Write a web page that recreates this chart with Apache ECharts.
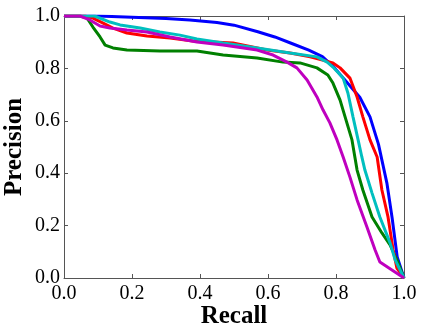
<!DOCTYPE html>
<html>
<head>
<meta charset="utf-8">
<script src="https://cdn.jsdelivr.net/npm/echarts@6/dist/echarts.min.js"></script>
<style>
html,body{margin:0;padding:0;background:#fff;}
#chart{width:423px;height:335px;}
</style>
</head>
<body>
<div id="chart"></div>
<script>
// 曲线数据 [recall, precision]
var blueData = [[0,1.0],[0.1,1.0],[0.2,0.995],[0.3,0.99],[0.37,0.985],[0.45,0.975],[0.5,0.965],[0.57,0.94],[0.62,0.92],[0.67,0.895],[0.72,0.87],[0.76,0.845],[0.79,0.81],[0.83,0.75],[0.87,0.69],[0.9,0.615],[0.925,0.51],[0.95,0.36],[0.965,0.23],[0.98,0.08],[1.0,0.0]];
var greenData = [[0,1.0],[0.047,1.0],[0.068,0.992],[0.085,0.958],[0.106,0.92],[0.121,0.889],[0.144,0.878],[0.185,0.87],[0.282,0.866],[0.391,0.866],[0.468,0.851],[0.568,0.84],[0.644,0.824],[0.694,0.821],[0.744,0.802],[0.776,0.775],[0.791,0.744],[0.812,0.679],[0.832,0.592],[0.847,0.527],[0.856,0.458],[0.862,0.412],[0.879,0.336],[0.906,0.233],[0.935,0.172],[0.959,0.126],[0.979,0.069],[1.0,0.0]];
var redData = [[0,1.0],[0.062,1.0],[0.085,0.992],[0.115,0.973],[0.144,0.954],[0.185,0.935],[0.244,0.924],[0.312,0.916],[0.379,0.905],[0.497,0.897],[0.597,0.87],[0.665,0.859],[0.724,0.844],[0.791,0.821],[0.812,0.802],[0.841,0.763],[0.862,0.691],[0.879,0.615],[0.9,0.527],[0.921,0.462],[0.935,0.336],[0.953,0.233],[0.968,0.107],[0.979,0.038],[1.0,0.0]];
var cyanData = [[0,1.0],[0.09,1.0],[0.135,0.977],[0.165,0.966],[0.224,0.954],[0.282,0.939],[0.341,0.927],[0.391,0.912],[0.468,0.897],[0.568,0.878],[0.665,0.859],[0.744,0.844],[0.774,0.824],[0.791,0.805],[0.821,0.763],[0.835,0.706],[0.85,0.615],[0.865,0.527],[0.876,0.462],[0.885,0.412],[0.906,0.324],[0.929,0.233],[0.959,0.134],[0.974,0.069],[1.0,0.0]];
var magentaData = [[0,1.0],[0.047,1.0],[0.076,0.985],[0.106,0.962],[0.135,0.954],[0.185,0.947],[0.244,0.939],[0.312,0.92],[0.391,0.901],[0.468,0.889],[0.568,0.87],[0.615,0.851],[0.656,0.824],[0.685,0.802],[0.715,0.756],[0.744,0.691],[0.762,0.641],[0.782,0.592],[0.803,0.527],[0.821,0.462],[0.841,0.385],[0.862,0.298],[0.891,0.195],[0.915,0.107],[0.929,0.061],[1.0,0.0]];

var seriesList = [
	{data: blueData, color: '#0000ff'},
	{data: greenData, color: '#008000'},
	{data: redData, color: '#ff0000'},
	{data: cyanData, color: '#00bfbf'},
	{data: magentaData, color: '#bf00bf'}
];

var axisColor = '#555';
var serif = 'Liberation Serif';

function fmt(v){ return v.toFixed(1); }

function frameAxis(pos, extra){
	var ax = {
		type: 'value', min: 0, max: 1, interval: 0.2, position: pos,
		axisLine: {show: true, onZero: false, lineStyle: {color: axisColor, width: 1}},
		axisTick: {show: true, inside: true, length: 4, lineStyle: {color: axisColor}},
		axisLabel: {show: false},
		splitLine: {show: false}
	};
	return Object.assign(ax, extra || {});
}

var chart = echarts.init(document.getElementById('chart'));
chart.setOption({
	animation: false,
	grid: {left: 64, right: 19, top: 16, bottom: 57, containLabel: false, outerBoundsMode: 'none'},
	xAxis: [
		frameAxis('bottom', {
			name: 'Recall', nameLocation: 'middle', nameGap: 26, nameMoveOverlap: false,
			nameTextStyle: {fontFamily: serif, fontSize: 25, fontWeight: 'bold', color: '#000'},
			axisLabel: {show: true, margin: 6, formatter: fmt, fontFamily: serif, fontSize: 20, color: '#000'}
		}),
		frameAxis('top')
	],
	yAxis: [
		frameAxis('left', {
			name: 'Precision', nameLocation: 'middle', nameGap: 37, nameMoveOverlap: false,
			nameTextStyle: {fontFamily: serif, fontSize: 25, fontWeight: 'bold', color: '#000'},
			axisLabel: {show: true, margin: 4, formatter: fmt, fontFamily: serif, fontSize: 20, color: '#000'}
		}),
		frameAxis('right')
	],
	series: seriesList.map(function (s) {
		return {
			type: 'line', data: s.data, showSymbol: false, symbol: 'none',
			xAxisIndex: 0, yAxisIndex: 0,
			lineStyle: {color: s.color, width: 3},
			itemStyle: {color: s.color}
		};
	})
});
</script>
</body>
</html>
